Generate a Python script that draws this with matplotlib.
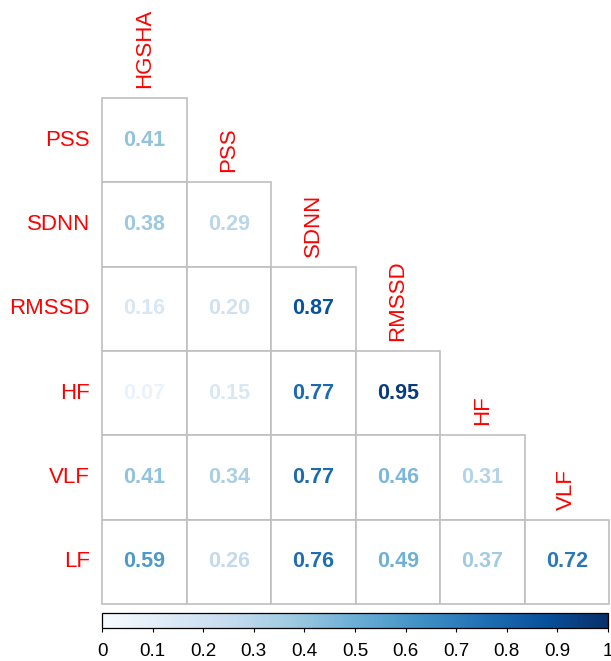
import numpy as np
import matplotlib
matplotlib.use("Agg")
import matplotlib.pyplot as plt
from matplotlib.patches import Rectangle
from matplotlib.cm import ScalarMappable
from matplotlib.colors import Normalize

plt.rcParams['font.family'] = ['Liberation Sans', 'DejaVu Sans']

# row and column variables of the lower triangle
row_labels = ['PSS', 'SDNN', 'RMSSD', 'HF', 'VLF', 'LF']
col_labels = ['HGSHA', 'PSS', 'SDNN', 'RMSSD', 'HF', 'VLF']

# correlation values, one list per row (lower triangle only)
r_pss = [0.41]
r_sdnn = [0.38, 0.29]
r_rmssd = [0.16, 0.20, 0.87]
r_hf = [0.07, 0.15, 0.77, 0.95]
r_vlf = [0.41, 0.34, 0.77, 0.46, 0.31]
r_lf = [0.59, 0.26, 0.76, 0.49, 0.37, 0.72]
rows = [r_pss, r_sdnn, r_rmssd, r_hf, r_vlf, r_lf]

W, H = 611, 661
fig = plt.figure(figsize=(W / 100, H / 100), dpi=100)

# grid axes in pixel layout
gl, gr, gt, gb = 102, 609, 98, 604
ax = fig.add_axes([gl / W, 1 - gb / H, (gr - gl) / W, (gb - gt) / H])
n = len(col_labels)
ax.set_xlim(0, n)
ax.set_ylim(n, 0)
ax.axis('off')

cmap = plt.get_cmap('Blues')
norm = Normalize(0, 1)

for i, vals in enumerate(rows):
    for j, v in enumerate(vals):
        ax.add_patch(Rectangle((j, i), 1, 1, facecolor='white',
                               edgecolor='#bfbfbf', linewidth=1.2,
                               clip_on=False))
        ax.text(j + 0.5, i + 0.5, f'{v:.2f}', ha='center', va='center',
                fontsize=15.5, fontweight='bold', color=cmap(norm(v)))

for i, lab in enumerate(row_labels):
    ax.text(-0.14, i + 0.5, lab, ha='right', va='center',
            fontsize=16, color='red')

for j, lab in enumerate(col_labels):
    ax.text(j + 0.5, j - 0.12, lab, ha='center', va='bottom',
            rotation=90, fontsize=16, color='red')

# colour legend below the grid
cax = fig.add_axes([102 / W, 1 - 628 / H, 506 / W, 15 / H])
sm = ScalarMappable(norm=norm, cmap=cmap)
cb = fig.colorbar(sm, cax=cax, orientation='horizontal')
ticks = np.round(np.arange(0, 1.01, 0.1), 1)
cb.set_ticks(ticks)
cb.set_ticklabels(['0' if t == 0 else ('1' if t == 1 else f'{t:.1f}') for t in ticks])
cb.outline.set_linewidth(0.9)
cax.tick_params(direction='out', length=3, width=0.8, labelsize=13.5, pad=8)

fig.savefig('out.png', dpi=100)
